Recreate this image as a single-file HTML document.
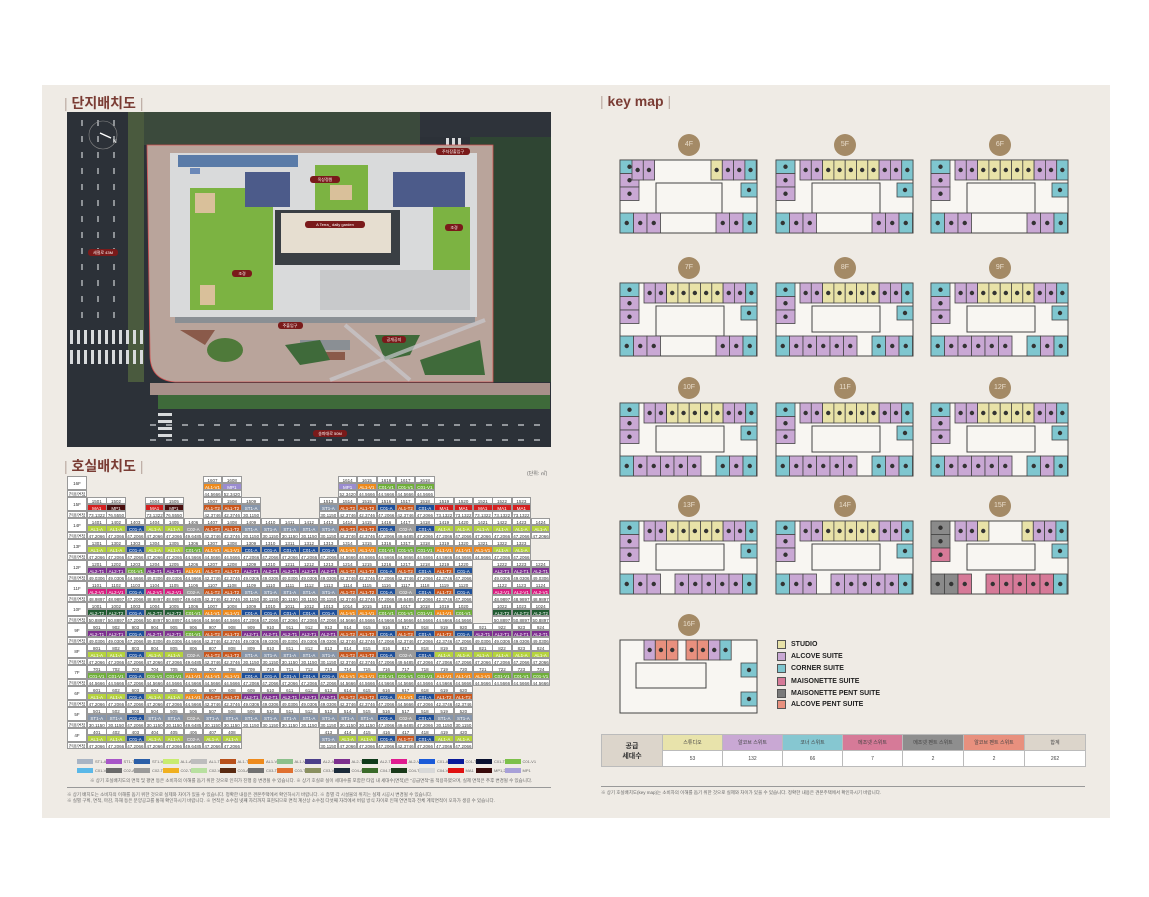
<!DOCTYPE html>
<html><head><meta charset="utf-8">
<style>
*{margin:0;padding:0;box-sizing:border-box}
body{width:1149px;height:897px;background:#fff;position:relative;overflow:hidden;font-family:"Liberation Sans","Noto Sans CJK KR",sans-serif}
#panel{position:absolute;left:42px;top:85px;width:1068px;height:733px;background:#efebe5}
.ttl{position:absolute;font-weight:bold;font-size:14px;color:#7a3c34;font-family:"Liberation Sans","Noto Sans CJK KR",sans-serif}
.ttl span{color:#b9a9a0;font-weight:normal}
.c{position:absolute;font-size:4.5px;line-height:7px;text-align:center;color:#333;border:0.5px solid #999;background:#fff;overflow:hidden;white-space:nowrap}
.lg{position:absolute;font-size:7px;font-weight:bold;color:#222}
.lg i{position:absolute;left:0;top:0;width:9px;height:9px;border:1px solid #555}
.lg b{position:absolute;left:14px;top:1px;white-space:nowrap}
.circ{position:absolute;width:22px;height:22px;border-radius:50%;background:#a48a66;color:#e8dccb;font-size:7px;text-align:center;line-height:22px}
.note{position:absolute;font-size:4.5px;color:#666;white-space:nowrap}
.st{table-layout:fixed}
.st td{border:1px solid #bbb;text-align:center;font-size:5px;color:#444;height:16px;overflow:hidden;white-space:nowrap}
</style></head><body>
<div id="panel"></div>
<div class="ttl" style="left:64px;top:93px"><span>| </span>단지배치도<span> |</span></div>
<div class="ttl" style="left:64px;top:456px"><span>| </span>호실배치도<span> |</span></div>
<div class="ttl" style="left:600px;top:93px"><span>| </span>key map<span> |</span></div>
<div class="note" style="left:527px;top:470px;font-size:5px">(단위: ㎡)</div>

<svg style="position:absolute;left:67px;top:112px" width="484" height="335" viewBox="67 112 484 335">
<rect x="67" y="112" width="484" height="335" fill="#2c3138"/>
<rect x="143" y="112" width="277" height="33" fill="#3b4a3c"/>
<rect x="420" y="112" width="131" height="25" fill="#2e333a"/>
<rect x="470" y="137" width="81" height="245" fill="#2f4533"/>
<rect x="128" y="112" width="16" height="270" fill="#4a5a3e"/>
<g stroke="#cfd2d6" stroke-width="1.2" stroke-dasharray="6 10">
<line x1="82" y1="120" x2="82" y2="320"/><line x1="98" y1="120" x2="98" y2="320"/><line x1="114" y1="120" x2="114" y2="320"/>
<line x1="150" y1="425" x2="550" y2="425"/><line x1="150" y1="440" x2="550" y2="440"/>
</g>
<g fill="#d8dadc">
<rect x="70" y="330" width="3" height="14"/><rect x="77" y="330" width="3" height="14"/><rect x="84" y="330" width="3" height="14"/><rect x="91" y="330" width="3" height="14"/><rect x="98" y="330" width="3" height="14"/><rect x="105" y="330" width="3" height="14"/><rect x="112" y="330" width="3" height="14"/><rect x="119" y="330" width="3" height="14"/><rect x="126" y="330" width="3" height="14"/><rect x="133" y="330" width="3" height="14"/><rect x="140" y="330" width="3" height="14"/>
<rect x="70" y="350" width="3" height="14"/><rect x="77" y="350" width="3" height="14"/><rect x="84" y="350" width="3" height="14"/><rect x="91" y="350" width="3" height="14"/><rect x="98" y="350" width="3" height="14"/><rect x="105" y="350" width="3" height="14"/><rect x="112" y="350" width="3" height="14"/><rect x="119" y="350" width="3" height="14"/><rect x="126" y="350" width="3" height="14"/><rect x="133" y="350" width="3" height="14"/><rect x="140" y="350" width="3" height="14"/>
<rect x="158" y="385" width="14" height="3"/><rect x="158" y="392" width="14" height="3"/><rect x="158" y="399" width="14" height="3"/><rect x="158" y="406" width="14" height="3"/><rect x="158" y="413" width="14" height="3"/><rect x="158" y="420" width="14" height="3"/><rect x="158" y="427" width="14" height="3"/><rect x="158" y="434" width="14" height="3"/>
<rect x="446" y="138" width="3" height="10"/><rect x="452" y="138" width="3" height="10"/><rect x="458" y="138" width="3" height="10"/>
</g>
<path d="M147 145 L493 145 L493 382 L175 382 Q150 380 150 355 Z" fill="#b9a49b" stroke="#d05050" stroke-width="0.8"/>
<rect x="150" y="383" width="400" height="12" fill="#a8908a"/>
<rect x="158" y="395" width="392" height="14" fill="#3e6a3a"/>
<rect x="170" y="153" width="307" height="164" fill="#d9dadb"/>
<rect x="190" y="168" width="10" height="6" fill="#6b88b8"/>
<rect x="190" y="188" width="83" height="122" fill="#7cb342"/>
<rect x="195" y="193" width="20" height="20" fill="#d9c09a"/>
<rect x="200" y="285" width="15" height="20" fill="#d9c09a"/>
<rect x="315" y="165" width="53" height="45" fill="#7cb342"/>
<rect x="330" y="185" width="22" height="15" fill="#d9c09a"/>
<rect x="433" y="207" width="37" height="103" fill="#7cb342"/>
<rect x="245" y="172" width="45" height="35" fill="#4c5b8a"/>
<rect x="393" y="172" width="72" height="35" fill="#4c5b8a"/>
<rect x="178" y="155" width="120" height="12" fill="#5a7ba8"/>
<rect x="275" y="210" width="125" height="55" fill="#3a3f44"/>
<rect x="281" y="213" width="110" height="40" fill="#e6ded0"/>
<rect x="320" y="270" width="150" height="40" fill="#c8c9cb"/>
<rect x="175" y="317" width="300" height="6" fill="#8a8f94"/>
<path d="M180 330 L215 330 L205 345 Z" fill="#8a5a4a"/>
<ellipse cx="225" cy="350" rx="18" ry="12" fill="#4f7a3a"/>
<rect x="300" y="340" width="50" height="10" fill="#8a8f94"/>
<rect x="300" y="352" width="45" height="8" fill="#8a5a4a"/>
<path d="M375 335 L420 335 L410 355 L385 360 Z" fill="#3f6a3a"/>
<path d="M420 360 L480 340 L485 375 L425 375 Z" fill="#3f6a3a"/>
<path d="M285 345 L300 365 L330 360 L320 340 Z" fill="#3f6a3a"/>
<g stroke="#c9c9cf" stroke-width="4" opacity="0.7"><line x1="345" y1="325" x2="410" y2="380"/><line x1="330" y1="380" x2="485" y2="320"/></g>
<g fill="#7a1a1a"><rect x="88" y="249" width="30" height="7" rx="3"/><rect x="232" y="270" width="20" height="7" rx="3"/><rect x="310" y="176" width="30" height="7" rx="3"/><rect x="305" y="221" width="60" height="7" rx="3"/><rect x="445" y="224" width="18" height="7" rx="3"/><rect x="278" y="322" width="25" height="7" rx="3"/><rect x="382" y="336" width="24" height="7" rx="3"/><rect x="436" y="148" width="34" height="7" rx="3"/><rect x="313" y="430" width="34" height="7" rx="3"/></g>
<g fill="#fff" font-size="4" text-anchor="middle" font-family="Liberation Sans, Noto Sans CJK KR, sans-serif">
<text x="103" y="254">세절로 43M</text><text x="242" y="275">조경</text><text x="325" y="181">옥상정원</text><text x="335" y="226">A Terra_ daily garden</text><text x="454" y="229">조경</text><text x="290" y="327">주출입구</text><text x="394" y="341">공개공지</text><text x="453" y="153">주차장출입구</text><text x="330" y="435">송파대로 50M</text></g>
<circle cx="103" cy="135" r="14" fill="none" stroke="#888" stroke-width="0.6"/>
<line x1="100" y1="133" x2="111" y2="138" stroke="#fff" stroke-width="1.5"/>
<text x="113" y="143" fill="#fff" font-size="5">N</text>
</svg>

<div id="tbl"></div>
<div id="plans"></div>

<div class="lg" style="left:777px;top:640px"><i style="background:#e8e2a8"></i><b>STUDIO</b></div>
<div class="lg" style="left:777px;top:652px"><i style="background:#c9a8d4"></i><b>ALCOVE SUITE</b></div>
<div class="lg" style="left:777px;top:664px"><i style="background:#7fc6cf"></i><b>CORNER SUITE</b></div>
<div class="lg" style="left:777px;top:677px"><i style="background:#d67a98"></i><b>MAISONETTE SUITE</b></div>
<div class="lg" style="left:777px;top:689px"><i style="background:#7a7a7a"></i><b>MAISONETTE PENT SUITE</b></div>
<div class="lg" style="left:777px;top:700px"><i style="background:#e8907e"></i><b>ALCOVE PENT SUITE</b></div>

<table class="st" style="position:absolute;left:601px;top:734px;width:484px;border-collapse:collapse;border-top:1.5px solid #444;border-bottom:1.5px solid #444">
<colgroup><col style="width:61px"><col style="width:60px"><col style="width:60px"><col style="width:60px"><col style="width:60px"><col style="width:61px"><col style="width:61px"><col style="width:61px"></colgroup>
<tr><td rowspan="2" style="background:#dcd5cb;font-weight:bold;font-size:7px;color:#333">공급<br>세대수</td>
<td style="background:#e8e3ab">스튜디오</td><td style="background:#c9a8d4">알코브 스위트</td><td style="background:#86c7d1">코너 스위트</td><td style="background:#d67a98">메조넷 스위트</td><td style="background:#8e8e8e">메조넷 펜트 스위트</td><td style="background:#e8907e">알코브 펜트 스위트</td><td style="background:#dcd5cb">합계</td></tr>
<tr><td style="background:#fff">53</td><td style="background:#fff">132</td><td style="background:#fff">66</td><td style="background:#fff">7</td><td style="background:#fff">2</td><td style="background:#fff">2</td><td style="background:#fff">262</td></tr>
</table>
<div style="position:absolute;left:601px;top:786px;width:484px;height:1px;background:#999"></div>
<div class="note" style="left:601px;top:790px">※ 상기 호실배치도(key map)는 소비자의 이해를 돕기 위한 것으로 실제와 차이가 있을 수 있습니다. 정확한 내용은 견본주택에서 확인하시기 바랍니다.</div>

<div style="position:absolute;left:67px;top:787px;width:484px;height:1px;background:#999"></div>
<div class="note" style="left:90px;top:778px">※ 상기 호실배치도의 면적 및 평면 등은 소비자의 이해를 돕기 위한 것으로 인허가 진행 중 변경될 수 있습니다. ※ 상기 호실로 실이 세대수를 포함한 타입 내 세대수(면적)은 "공급면적"을 적용하였으며, 실제 면적은 추후 변경될 수 있습니다.</div>
<div class="note" style="left:67px;top:792px">※ 상기 배치도는 소비자의 이해를 돕기 위한 것으로 실제와 차이가 있을 수 있습니다. 정확한 내용은 견본주택에서 확인하시기 바랍니다. ※ 층별 각 시설물의 위치는 실제 시공시 변경될 수 있습니다.</div>
<div class="note" style="left:67px;top:798px">※ 실별 구획, 면적, 마감, 자재 등은 분양공고를 통해 확인하시기 바랍니다. ※ 면적은 소수점 넷째 자리까지 표현되므로 면적 계산상 소수점 다섯째 자리에서 버림 방식 차이로 인해 연면적과 전체 계약면적이 오차가 생길 수 있습니다.</div>

<script>
(function(){
var pal={L:'#b5d33d',P:'#7d2f8f',B:'#1d4f9a',O:'#ee8a1c',D:'#c9561c',G:'#8796ab',g:'#9b9b9b',N:'#0f2a66',E:'#6fae3a',M:'#d81b7f',R:'#d32020',W:'#4a0f0f',V:'#9a8cd0',T:'#1f5a30'};
var code={L:'AL1-A',P:'AL2-T1',B:'C01-A',O:'AL1-V1',D:'AL1-T2',G:'ST1-A',g:'C02-A',N:'C01-T2',E:'C01-V1',M:'AL2-V1',R:'MA1',W:'MP1',V:'MP1',T:'AL2-T2'};
var area={L:'47.2066',P:'49.0306',B:'47.2066',O:'44.5666',D:'42.3746',G:'30.1150',g:'49.6485',N:'47.2066',E:'44.5666',M:'48.9897',R:'73.1322',W:'76.5550',V:'52.3420',T:'50.8897'};
var rows=[[16,"......OV.....VOEEE......"],[15,"RW.RW.DDG...GDDBDBRRRRR."],[14,"LLBLLgDDGGGGGDDBgBLLLLLL"],[13,"LLBLLEOOBBBBBOOEEEOOOLL."],[12,"PPEPPODDPPPPPDDBDBDB.PPP"],[11,"MMBMMgDDGGGGGDDBgBDB.MMM"],[10,"TTBTTEOOBBBBBOOEEEOE.TTT"],[9,"PPBPPEDDPPPPPDDBDBDBPPPP"],[8,"LLBLLgDDGGGGGDDBgBLLLLLL"],[7,"EEBEEOOOBBBBBOOEEEOOOEEE"],[6,"LLBLLODDPPPPPDDBOBDD...."],[5,"GGBGGgGGGGGGGGGBgBGG...."],[4,"LLBLLgLL....GLLBDBLL...."]];
var h='',x0=87,cw=19.3,y0=476,fh=21;
rows.forEach(function(r,i){
 var y=y0+i*fh,f=r[0],s=r[1];
 h+='<div class="c" style="left:67px;top:'+y+'px;width:20px;height:14px;line-height:14px">'+f+'F</div>';
 h+='<div class="c" style="left:67px;top:'+(y+14)+'px;width:20px;height:7px">전용면적</div>';
 for(var j=0;j<24;j++){var k=s[j];if(k=='.')continue;var x=(x0+j*cw).toFixed(1);var n=f*100+j+1;
  h+='<div class="c" style="left:'+x+'px;top:'+y+'px;width:19.5px;height:7px">'+n+'</div>';
  h+='<div class="c" style="left:'+x+'px;top:'+(y+7)+'px;width:19.5px;height:7px;background:'+pal[k]+';color:#fff">'+code[k]+'</div>';
  h+='<div class="c" style="left:'+x+'px;top:'+(y+14)+'px;width:19.5px;height:7px">'+area[k]+'</div>';}
});
var lk=['ST1-A','ST1-T','ST1-V','AL1-A','AL1-T1','AL1-T2','AL1-V1','AL1-V2','AL2-A','AL2-T1','AL2-T2','AL2-V1','C01-A','C01-T1','C01-T2','C01-V1'];
var lc=['#a8b4c4','#a855c8','#2a5ea8','#c8ec70','#bdbdbd','#b8501a','#ee8a1c','#8cc08c','#4b3f8a','#7d2f8f','#0f3a1a','#e01b8f','#1a5ad8','#0a1a9a','#081030','#7cc04a'];
var lk2=['C01-V2','C02-A','C02-T1','C02-T2','C02-V1','C03-A','C03-T1','C03-T1','C03-V1','C04-A','C04-T1','C04-T2','C04-V1','MA1','MP1,2','MP1'];
var lc2=['#5ab8e8','#6a6a6a','#9a9a9a','#f0b020','#b8e0a0','#5a2a10','#707070','#e07030','#8a9060','#1a2a3a','#3a6a2a','#1a3a1a','#d8d8d8','#e01010','#3a0a0a','#a8a0d8'];
for(var i=0;i<16;i++){var x=77+i*28.5;
 h+='<div style="position:absolute;left:'+x+'px;top:759px;width:16px;height:5px;background:'+lc[i]+'"></div><div class="note" style="left:'+(x+18)+'px;top:759px;font-size:4px">'+lk[i]+'</div>';
 h+='<div style="position:absolute;left:'+x+'px;top:768px;width:16px;height:5px;background:'+lc2[i]+'"></div><div class="note" style="left:'+(x+18)+'px;top:768px;font-size:4px">'+lk2[i]+'</div>';}
document.getElementById('tbl').innerHTML=h;

var col={S:'#e8e2a8',A:'#c9a8d4',C:'#7fc6cf',M:'#d67a98',P:'#8a8a8a',R:'#e8907e'};
function unit(x,y,w,hh,t){return '<rect x="'+x+'" y="'+y+'" width="'+w+'" height="'+hh+'" fill="'+col[t]+'" stroke="#444" stroke-width="0.8"/><circle cx="'+(x+w/2)+'" cy="'+(y+hh/2)+'" r="2.2" fill="#333"/>';}
function plan(px,py,lab,sp){
 var s='<svg style="position:absolute;left:'+px+'px;top:'+py+'px;overflow:visible" width="140" height="76">';
 s+='<path d="'+(sp.out||'M0 0 H137 V73 H0 Z')+'" fill="#f8f6f2" stroke="#444" stroke-width="1"/>';
 s+='<rect x="'+(sp.ix||36)+'" y="23" width="'+(sp.iw||68)+'" height="'+(sp.ih||26)+'" fill="none" stroke="#444" stroke-width="1"/>';
 (sp.left||[]).forEach(function(t,i){s+=unit(0,i*13.5,19,13.5,t);});
 (sp.top||[]).forEach(function(g){g[1].split('').forEach(function(t,i){s+=unit(g[0]+i*11.3,0,11.3,20,t);});});
 (sp.bot||[]).forEach(function(g){g[1].split('').forEach(function(t,i){s+=unit(g[0]+i*13.5,53,13.5,20,t);});});
 (sp.right||[]).forEach(function(r){s+=unit(r[0],r[1],16,14,r[2]);});
 s+='</svg>';
 s+='<div class="circ" style="left:'+(px+58)+'px;top:'+(py-26)+'px">'+lab+'</div>';
 return s;}
var T10=[[24,'AASSSSSAAC']],R=[[121,23,'C']];
var P=[
 [620,160,'4F',{left:'CAA'.split(''),top:[[12,'AA'],[91,'SAAC']],bot:[[0,'CAA'],[96,'AAC']],right:R,ix:36,iw:66,ih:30}],
 [776,160,'5F',{left:'CAA'.split(''),top:T10,bot:[[0,'CAA'],[96,'AAC']],right:R,ih:30}],
 [931,160,'6F',{left:'CAA'.split(''),top:T10,bot:[[0,'CAA'],[96,'AAC']],right:R,ih:30}],
 [620,283,'7F',{left:'CAA'.split(''),top:T10,bot:[[0,'CAA'],[96,'AAC']],right:R,ih:30}],
 [776,283,'8F',{left:'CAA'.split(''),top:T10,bot:[[0,'CAAAAA'],[96,'CAC']],right:R}],
 [931,283,'9F',{left:'CAA'.split(''),top:T10,bot:[[0,'CAAAAA'],[96,'CAC']],right:R}],
 [620,403,'10F',{left:'CAA'.split(''),top:T10,bot:[[0,'CAAAAA'],[96,'CAC']],right:R}],
 [776,403,'11F',{left:'CAA'.split(''),top:T10,bot:[[0,'CAAAAA'],[96,'CAC']],right:R}],
 [931,403,'12F',{left:'CAA'.split(''),top:T10,bot:[[0,'CAAAAA'],[96,'CAC']],right:R}],
 [620,521,'13F',{left:'CAA'.split(''),top:T10,bot:[[0,'CAA'],[55,'AAAAAC']],right:R}],
 [776,521,'14F',{left:'CAA'.split(''),top:T10,bot:[[0,'CAA'],[55,'AAAAAC']],right:R}],
 [931,521,'15F',{left:'PPM'.split(''),top:[[24,'AAS'],[91,'SAAC']],bot:[[0,'PPM'],[55,'MMMMMC']],right:R}],
 [620,640,'16F',{out:'M0 0 H137 V73 H0 Z',top:[[24,'ARR'],[66,'RRAC']],bot:[],right:[[121,23,'C'],[121,52,'C']],ix:16,iw:70,ih:25}]
];
var ph='';P.forEach(function(p){ph+=plan(p[0],p[1],p[2],p[3]);});
document.getElementById('plans').innerHTML=ph;
})();
</script>
</body></html>
